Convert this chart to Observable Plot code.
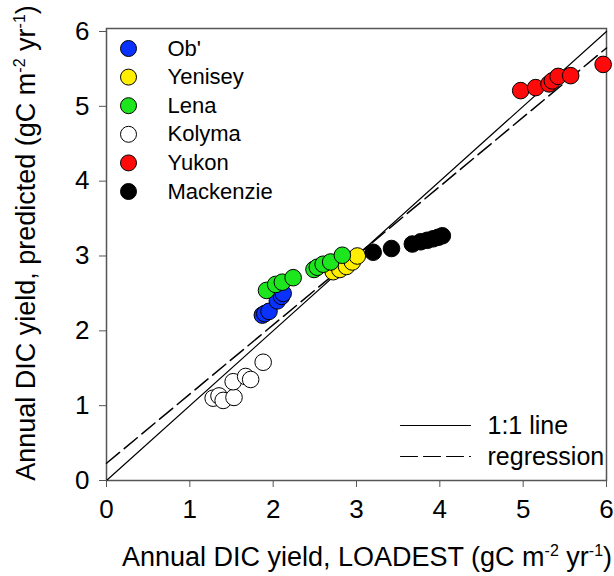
<!DOCTYPE html>
<html><head><meta charset="utf-8">
<script src="https://cdn.jsdelivr.net/npm/d3@7"></script>
<script src="https://cdn.jsdelivr.net/npm/@observablehq/plot@0.6"></script>
<style>body{margin:0;background:#fff}svg{font-family:"Liberation Sans",Arial,sans-serif}</style>
</head><body><div id="chart"></div>
<script>
const seriesNames = ["Ob'", "Yenisey", "Lena", "Kolyma", "Yukon", "Mackenzie"];
const seriesColors = ["#0a32ff", "#ffee00", "#1ee61e", "#ffffff", "#ff0a0a", "#000000"];

const obX = [1.87, 1.90, 1.95, 2.05, 2.10, 2.12];
const obY = [2.21, 2.23, 2.26, 2.40, 2.46, 2.50];
const yeniseyX = [2.72, 2.80, 2.88, 2.95, 3.01];
const yeniseyY = [2.79, 2.82, 2.86, 2.92, 3.00];
const lenaX = [1.92, 2.03, 2.11, 2.24, 2.49, 2.53, 2.60, 2.69, 2.83];
const lenaY = [2.54, 2.62, 2.65, 2.71, 2.82, 2.85, 2.89, 2.92, 3.01];
const kolymaX = [1.28, 1.35, 1.40, 1.53, 1.52, 1.67, 1.73, 1.88];
const kolymaY = [1.10, 1.13, 1.07, 1.11, 1.32, 1.39, 1.35, 1.58];
const yukonX = [4.97, 5.15, 5.31, 5.35, 5.42, 5.57, 5.96];
const yukonY = [5.21, 5.25, 5.30, 5.34, 5.40, 5.41, 5.56];
const mackX = [3.20, 3.42, 3.67, 3.77, 3.85, 3.92, 3.98, 4.03];
const mackY = [3.05, 3.10, 3.16, 3.19, 3.21, 3.23, 3.25, 3.27];

const regIntercept = 0.23, regSlope = 0.925;
const xTicks = [0,1,2,3,4,5,6];
const yTicks = [0,1,2,3,4,5,6];

const groups = [[obX,obY],[yeniseyX,yeniseyY],[lenaX,lenaY],[kolymaX,kolymaY],[yukonX,yukonY],[mackX,mackY]];
const points = [];
groups.forEach(([xs,ys],g)=>xs.forEach((x,i)=>points.push({x, y: ys[i], s: seriesNames[g], c: seriesColors[g]})));

const oneToOne = [{x:0,y:0},{x:6,y:6}];
const regression = [0,6].map(x=>({x, y: regIntercept + regSlope*x}));

// legend layout (pixel -> data units)
const W=614,H=576,mL=106,mR=8,mT=28,mB=96,yMax=6.04;
const px2x = p => (p-mL)/(W-mL-mR)*6;
const py2y = p => (H-mB-p)/(H-mB-mT)*yMax;
const legendPts = seriesNames.map((s,i)=>({s, c: seriesColors[i], x: px2x(128), tx: px2x(167), y: py2y(48 + i*28.6)}));
const lineLegend = [
  {label:"1:1 line", dash:null, y: py2y(425)},
  {label:"regression", dash:"17,6", y: py2y(456)}
];

const fmt = d3.format("d");
const chart = Plot.plot({
  width: W, height: H, marginLeft: mL, marginRight: mR, marginTop: mT, marginBottom: mB,
  style: {fontFamily: '"Liberation Sans", Arial, sans-serif', fontSize: "26px", color: "#000", background: "#fff"},
  x: {domain: [0,6], label: null},
  y: {domain: [0,yMax], label: null},
  marks: [
    Plot.frame({stroke: "#555", strokeWidth: 1.5}),
    Plot.line(oneToOne, {x:"x", y:"y", stroke:"#000", strokeWidth:1.2}),
    Plot.line(regression, {x:"x", y:"y", stroke:"#000", strokeWidth:1.5, strokeDasharray:"17,6"}),
    Plot.dot(points, {x:"x", y:"y", r:8.3, fill:"c", stroke:"#000", strokeWidth:1}),
    Plot.dot(legendPts, {x:"x", y:"y", r:8, fill:"c", stroke:"#000", strokeWidth:1}),
    Plot.text(legendPts, {x:"tx", y:"y", text:"s", textAnchor:"start", fontSize:22}),
    ...lineLegend.map(d=>Plot.line([{x:px2x(400),y:d.y},{x:px2x(470),y:d.y}], {x:"x", y:"y", stroke:"#000", strokeWidth:1.2, strokeDasharray: d.dash || undefined})),
    Plot.text(lineLegend, {x: px2x(487), y:"y", text:"label", textAnchor:"start", fontSize:25}),
    Plot.axisX({ticks: xTicks, tickFormat: fmt, tickSize: 7, tickPadding: 12, fontSize: 26, stroke:"#555", label:null}),
    Plot.axisY({ticks: yTicks, tickFormat: fmt, tickSize: 7, tickPadding: 10, fontSize: 26, stroke:"#555", label:null})
  ]
});
document.getElementById("chart").appendChild(chart);

const svg = d3.select(chart);
function unitLabel(sel, prefix){
  sel.append("tspan").text(prefix + "(gC m");
  sel.append("tspan").attr("dy","-10").attr("font-size","16px").text("-2");
  sel.append("tspan").attr("dy","10").text(" yr");
  sel.append("tspan").attr("dy","-10").attr("font-size","16px").text("-1");
  sel.append("tspan").attr("dy","10").text(")");
}
const xl = svg.append("text").attr("x", 367).attr("y", 566).attr("text-anchor","middle")
  .attr("font-size","27px").attr("fill","#000");
unitLabel(xl, "Annual DIC yield, LOADEST ");
const yl = svg.append("text").attr("transform","translate(35,243) rotate(-90)").attr("text-anchor","middle")
  .attr("font-size","27px").attr("fill","#000");
unitLabel(yl, "Annual DIC yield, predicted ");
</script></body></html>
